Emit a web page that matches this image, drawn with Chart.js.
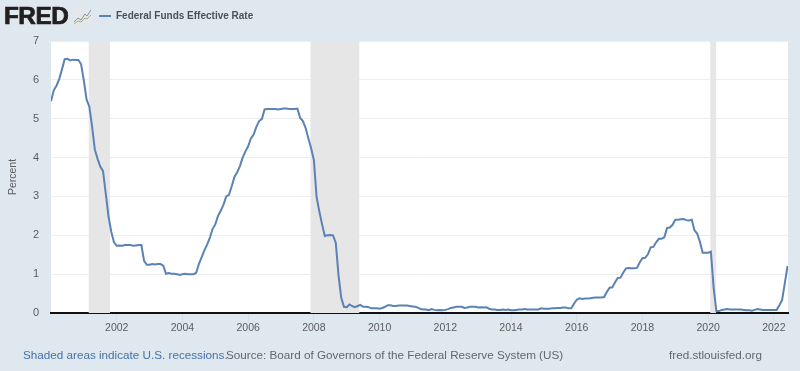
<!DOCTYPE html>
<html><head><meta charset="utf-8">
<style>
html,body{margin:0;padding:0;background:#dfe7ef;width:800px;height:371px;overflow:hidden;font-family:"Liberation Sans",Arial,sans-serif}
#wrap{position:relative;width:800px;height:371px;filter:blur(0.4px)}
canvas{position:absolute;left:0;top:0}
.t{position:absolute;white-space:nowrap}
#logo{left:4px;top:1px;font-size:23px;font-weight:bold;color:#231f20;letter-spacing:-0.5px;-webkit-text-stroke:0.7px #231f20;line-height:30px;transform:scaleX(1.06);transform-origin:left}
#icon{position:absolute;left:73px;top:8px}
#legline{position:absolute;left:99px;top:15px;width:12px;height:2px;background:#5b82b5}
#legtxt{left:116px;top:9px;font-size:10px;font-weight:bold;color:#4d5157;line-height:14px;letter-spacing:0}
#foot1{left:23px;top:347px;font-size:11.7px;color:#4572a7;line-height:15px}
#foot2{left:226px;top:347px;font-size:11.7px;color:#63676c;line-height:15px}
#foot3{left:669px;top:347px;font-size:11.7px;color:#63676c;line-height:15px}
</style>
<script src="https://cdn.jsdelivr.net/npm/chart.js@4"></script>
</head><body><div id="wrap">
<canvas id="c" width="800" height="371"></canvas>
<div class="t" id="logo">FRED</div>
<svg id="icon" width="19" height="17" viewBox="0 0 19 17"><rect width="19" height="17" fill="#e4e8ea"/><polyline points="1,14 5,10 8,12 12,6 14,8 18,2" fill="none" stroke="#7f95b0" stroke-width="1"/><polyline points="1,16 5,13 8,14 12,10 14,11 18,7" fill="none" stroke="#a3b279" stroke-width="1"/></svg>
<div id="legline"></div>
<div class="t" id="legtxt">Federal Funds Effective Rate</div>
<div class="t" id="foot1">Shaded areas indicate U.S. recessions.</div>
<div class="t" id="foot2">Source: Board of Governors of the Federal Reserve System (US)</div>
<div class="t" id="foot3">fred.stlouisfed.org</div>
</div>
<script>
const startYear = 2000;
const rate2000 = [5.45,5.73,5.85,6.02,6.27,6.53,6.54,6.50,6.52,6.51,6.51,6.40];
const rate2001 = [5.98,5.49,5.31,4.80,4.21,3.97,3.77,3.65,3.07,2.49,2.09,1.82];
const rate2002 = [1.73,1.74,1.73,1.75,1.75,1.75,1.73,1.74,1.75,1.75,1.34,1.24];
const rate2003 = [1.24,1.26,1.25,1.26,1.26,1.22,1.01,1.03,1.01,1.01,1.00,0.98];
const rate2004 = [1.00,1.01,1.00,1.00,1.00,1.03,1.26,1.43,1.61,1.76,1.93,2.16];
const rate2005 = [2.28,2.50,2.63,2.79,3.00,3.04,3.26,3.50,3.62,3.78,4.00,4.16];
const rate2006 = [4.29,4.49,4.59,4.79,4.94,4.99,5.24,5.25,5.25,5.25,5.25,5.24];
const rate2007 = [5.25,5.26,5.26,5.25,5.25,5.25,5.26,5.02,4.94,4.76,4.49,4.24];
const rate2008 = [3.94,2.98,2.61,2.28,1.98,2.00,2.01,2.00,1.81,0.97,0.39,0.16];
const rate2009 = [0.15,0.22,0.18,0.15,0.18,0.21,0.16,0.16,0.15,0.12,0.12,0.12];
const rate2010 = [0.11,0.13,0.16,0.20,0.20,0.18,0.18,0.19,0.19,0.19,0.19,0.18];
const rate2011 = [0.17,0.16,0.14,0.10,0.09,0.09,0.07,0.10,0.08,0.07,0.08,0.07];
const rate2012 = [0.08,0.10,0.13,0.14,0.16,0.16,0.16,0.13,0.14,0.16,0.16,0.16];
const rate2013 = [0.14,0.15,0.14,0.15,0.11,0.09,0.09,0.08,0.08,0.09,0.08,0.09];
const rate2014 = [0.07,0.07,0.08,0.09,0.09,0.10,0.09,0.09,0.09,0.09,0.09,0.12];
const rate2015 = [0.11,0.11,0.11,0.12,0.12,0.13,0.13,0.14,0.14,0.12,0.12,0.24];
const rate2016 = [0.34,0.38,0.36,0.37,0.37,0.38,0.39,0.40,0.40,0.40,0.41,0.54];
const rate2017 = [0.65,0.66,0.79,0.90,0.91,1.04,1.15,1.16,1.15,1.15,1.16,1.30];
const rate2018 = [1.41,1.42,1.51,1.69,1.70,1.82,1.91,1.91,1.95,2.19,2.20,2.27];
const rate2019 = [2.40,2.40,2.41,2.42,2.39,2.38,2.40,2.13,2.04,1.83,1.55,1.55];
const rate2020 = [1.55,1.58,0.65,0.05,0.05,0.08,0.09,0.10,0.09,0.09,0.09,0.09];
const rate2021 = [0.09,0.08,0.07,0.07,0.06,0.08,0.10,0.09,0.08,0.08,0.08,0.08];
const rate2022 = [0.08,0.08,0.20,0.33,0.77,1.21];
const allRates = [rate2000,rate2001,rate2002,rate2003,rate2004,rate2005,rate2006,rate2007,rate2008,rate2009,rate2010,rate2011,rate2012,rate2013,rate2014,rate2015,rate2016,rate2017,rate2018,rate2019,rate2020,rate2021,rate2022];
const recessions = [[2001.14,2001.80],[2007.89,2009.39],[2020.06,2020.25]];
const yTicks = [0,1,2,3,4,5,6,7];
const xMin = 2000, xMax = 2022.43, yTop = 7;

const ratePoints = [];
allRates.forEach((yr,i)=>yr.forEach((v,m)=>ratePoints.push({x:startYear+i+m/12,y:v})));

const recessionSets = recessions.map(r=>({
  type:'line',label:'Recession',
  data:[{x:r[0],y:yTop},{x:r[1],y:yTop}],
  borderWidth:0,pointRadius:0,fill:'origin',backgroundColor:'#e6e6e6',order:2
}));

const plotBg = {id:'plotBg',beforeDraw(ch){const a=ch.chartArea,c=ch.ctx;c.save();c.fillStyle='#ffffff';c.fillRect(a.left,a.top,a.right-a.left,a.bottom-a.top);c.restore();}};

new Chart(document.getElementById('c'),{
  type:'line',
  data:{datasets:[...recessionSets,{
    label:'Federal Funds Effective Rate',data:ratePoints,
    borderColor:'#5b82b5',borderWidth:2,pointRadius:0,tension:0,fill:false,order:1
  }]},
  plugins:[plotBg],
  options:{
    responsive:false,animation:false,
    layout:{padding:{left:7,right:12,top:41,bottom:0}},
    plugins:{legend:{display:false},tooltip:{enabled:false}},
    scales:{
      x:{type:'linear',min:xMin,max:xMax,
        grid:{display:true,drawOnChartArea:false,drawTicks:true,tickLength:9,color:'#d6dee6'},
        border:{display:true,color:'#111',width:2},
        afterBuildTicks(s){s.ticks=[];for(let y=2002;y<=2022;y+=2)s.ticks.push({value:y});},
        ticks:{color:'#5a5d61',font:{size:10.5,family:'"Liberation Sans",Arial,sans-serif'},maxRotation:0,padding:0,autoSkip:false,callback:v=>String(v)},
        afterFit(s){s.height=58;}
      },
      y:{min:0,max:yTop,
        afterBuildTicks(s){s.ticks=yTicks.map(v=>({value:v}));},
        grid:{color:'#eeeeee',lineWidth:1,drawTicks:false},
        border:{display:false},
        ticks:{color:'#5a5d61',font:{size:11,family:'"Liberation Sans",Arial,sans-serif'},padding:12},
        title:{display:true,text:'Percent',color:'#5a5d61',font:{size:10.5,family:'"Liberation Sans",Arial,sans-serif'},padding:0},
        afterFit(s){s.width=44;}
      }
    }
  }
});
</script></body></html>
